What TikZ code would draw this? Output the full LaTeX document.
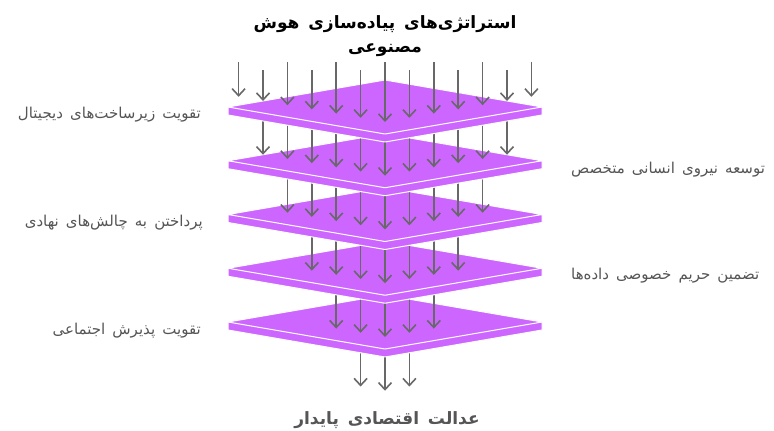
\documentclass[tikz,border=0pt]{standalone}
\usepackage{fontspec}
\newfontfamily\farsi[Script=Arabic, WordSpace=1.5]{DejaVu Sans}
\TeXXeTstate=1
\usepackage{xcolor}
\usetikzlibrary{arrows.meta}
\definecolor{layerpurple}{HTML}{CC66FF}
\definecolor{arrowgray}{HTML}{686868}
\definecolor{textgray}{HTML}{555555}

\begin{document}
\begin{tikzpicture}[
    x=1pt, y=-1pt,
    layer/.style={fill=layerpurple, draw=white, line width=1pt, line join=round},
    flow/.style={draw=arrowgray, line width=1.6pt, -{Straight Barb[length=7pt, width=13pt, line width=1.6pt]}},
    sidetext/.style={font=\farsi\fontsize{15}{17}\selectfont, text=textgray, inner sep=0pt},
  ]
  \useasboundingbox (0,0) rectangle (774,431);

  % Layers, bottom first, each with its arrows
  \foreach \j in {5,4,...,0} {
    \pgfmathsetmacro{\cy}{107+53.75*\j}
    \pgfmathtruncatemacro{\n}{6-\j}
    \pgfmathtruncatemacro{\m}{\j-6}
    \ifnum\j<5
      \draw[layer] (228,\cy) -- (542,\cy) -- (542,\cy+8) -- (385,\cy+35) -- (228,\cy+8) -- cycle;
      \draw[layer] (228,\cy) -- (385,\cy-27) -- (542,\cy) -- (385,\cy+27) -- cycle;
    \fi
    \foreach \i in {\m,...,\n} {
      \pgfmathsetmacro{\xa}{385+24.4*\i}
      \pgfmathsetmacro{\ye}{\cy+15-0.172*abs(24.4*\i)}
      \ifnum\j=0
        \pgfmathsetmacro{\ys}{ifthenelse(mod(abs(\i),2)==0,62,70)}
      \else
        \pgfmathsetmacro{\ys}{\cy-53.75}
      \fi
      \draw[flow] (\xa,\ys) -- (\xa,\ye);
    }
  }

  % Nodes
  \node[font=\farsi\bfseries\fontsize{17}{24}\selectfont, align=center, inner sep=0pt] (title) at (385,36)
    {\beginR استراتژی‌های پیاده‌سازی هوش\endR\\\beginR مصنوعی\endR};
  \node[sidetext, anchor=east] (infra) at (201,115) {\beginR تقویت زیرساخت‌های دیجیتال\endR};
  \node[sidetext, anchor=west] (workforce) at (571,170) {\beginR توسعه نیروی انسانی متخصص\endR};
  \node[sidetext, anchor=east] (institution) at (203,223) {\beginR پرداختن به چالش‌های نهادی\endR};
  \node[sidetext, anchor=west] (privacy) at (571,276) {\beginR تضمین حریم خصوصی داده‌ها\endR};
  \node[sidetext, anchor=east] (social) at (201,331) {\beginR تقویت پذیرش اجتماعی\endR};
  \node[font=\farsi\bfseries\fontsize{17}{19}\selectfont, text=textgray, inner sep=0pt] (goal) at (387,420)
    {\beginR عدالت اقتصادی پایدار\endR};
\end{tikzpicture}
\end{document}
